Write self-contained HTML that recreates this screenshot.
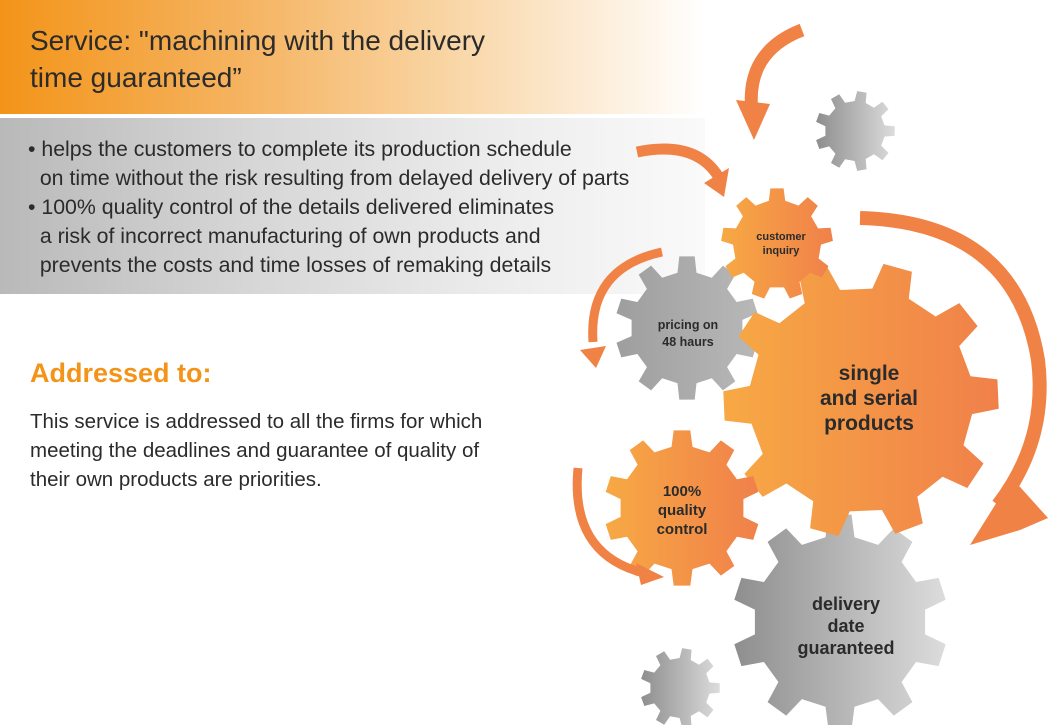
<!DOCTYPE html>
<html><head><meta charset="utf-8"><style>
html,body{margin:0;padding:0;background:#fff;}
body{width:1049px;height:725px;position:relative;overflow:hidden;font-family:"Liberation Sans",Arial,sans-serif;color:#333;}
.band1{position:absolute;left:0;top:0;width:705px;height:114px;background:linear-gradient(to right,#f39419 0%,#f5b462 35%,#f9d7a8 65%,#fff 100%);}
.band2{position:absolute;left:0;top:118px;width:705px;height:176px;background:linear-gradient(to right,#b9b9b9 0%,#d6d6d6 35%,#ececec 70%,#fafafa 100%);}
.narrow{white-space:nowrap;position:absolute;}
.title{left:30px;top:22px;font-size:28px;line-height:37px;color:#2b2b2b;}
.bul{left:28px;top:135px;font-size:21.3px;line-height:29px;color:#2b2b2b;}
.h{position:absolute;left:30px;top:358px;font-size:27px;font-weight:bold;color:#f39419;}
.p{position:absolute;left:30px;top:407px;font-size:20.5px;line-height:29px;color:#2b2b2b;white-space:nowrap;}
svg{position:absolute;left:0;top:0;}
</style></head><body>
<div class="band1"></div><div class="band2"></div>
<div class="narrow title">Service: "machining with the delivery<br>time guaranteed”</div>
<div class="narrow bul">• helps the customers to complete its production schedule<br>&nbsp;&nbsp;on time without the risk resulting from delayed delivery of parts<br>• 100% quality control of the details delivered eliminates<br>&nbsp;&nbsp;a risk of incorrect manufacturing of own products and<br>&nbsp;&nbsp;prevents the costs and time losses of remaking details</div>
<div class="h">Addressed to:</div>
<div class="p">This service is addressed to all the firms for which<br>meeting the deadlines and guarantee of quality of<br>their own products are priorities.</div>
<svg width="1049" height="725" viewBox="0 0 1049 725">
<defs>
<linearGradient id="og" x1="0" x2="1"><stop offset="0" stop-color="#f7a944"/><stop offset="1" stop-color="#f0804a"/></linearGradient>
<linearGradient id="gg" x1="0" x2="1"><stop offset="0" stop-color="#8e8e8e"/><stop offset="1" stop-color="#dcdcdc"/></linearGradient>
<linearGradient id="gm" x1="0" x2="1"><stop offset="0" stop-color="#9e9e9e"/><stop offset="1" stop-color="#b8b8b8"/></linearGradient>
</defs>
<g id="gears"></g>
<g fill="none" stroke="#f08246" stroke-linecap="butt">
<path d="M802,30 Q745,52 752,112" stroke-width="13"/>
<path d="M637,152 Q695,140 718,176" stroke-width="11"/>
<path d="M860,218 Q1015,222 1038,360 Q1048,440 998,505" stroke-width="14"/>
<path d="M662,252 Q588,268 593,342" stroke-width="9"/>
<path d="M578,468 Q570,552 640,572" stroke-width="9"/>
</g>
<g fill="#f08246">
<polygon points="736,100 770,104 754,140"/>
<polygon points="704,183 729,168 724,197"/>
<polygon points="1012,478 970,545 1020,530 1048,518"/>
<polygon points="580,350 606,346 596,368"/>
<polygon points="636,563 641,585 664,577"/>
</g>
<g font-family="Liberation Sans,Arial,sans-serif" font-weight="bold" fill="#2b2b2b" text-anchor="middle">
<text x="781" y="240" font-size="11">customer</text>
<text x="781" y="254" font-size="11">inquiry</text>
<text x="688" y="329" font-size="12.5">pricing on</text>
<text x="688" y="346" font-size="12.5">48 haurs</text>
<text x="869" y="380" font-size="21">single</text>
<text x="869" y="405" font-size="21">and serial</text>
<text x="869" y="430" font-size="21">products</text>
<text x="682" y="496" font-size="15">100%</text>
<text x="682" y="515" font-size="15">quality</text>
<text x="682" y="534" font-size="15">control</text>
<text x="846" y="610" font-size="18">delivery</text>
<text x="846" y="632" font-size="18">date</text>
<text x="846" y="654" font-size="18">guaranteed</text>
</g>
</svg>
<script>
function gear(cx,cy,ro,ri,n,fill,rot){
 var d="",step=Math.PI*2/n;rot=rot||0;
 for(var i=0;i<n;i++){
  var a=rot+i*step;
  var pts=[[a-step*0.27,ri],[a-step*0.17,ro],[a+step*0.17,ro],[a+step*0.27,ri]];
  pts.forEach(function(p,j){
   var x=cx+p[1]*Math.cos(p[0]),y=cy+p[1]*Math.sin(p[0]);
   d+=(i==0&&j==0?"M":"L")+x.toFixed(1)+","+y.toFixed(1);
  });
 }
 d+="Z";
 return '<path d="'+d+'" fill="'+fill+'"/>';
}
var g="";
g+=gear(855,131,40,30,9,"url(#gg)",0);
g+=gear(680,688,40,30,9,"url(#gg)",0);
g+=gear(687,328,72,56,10,"url(#gm)",-Math.PI/2);
g+=gear(840,622,108,86,10,"url(#gg)",-Math.PI/2);
g+=gear(861,400,138,112,10,"url(#og)",-1.3);
g+=gear(777,244,56,44,9,"url(#og)",-Math.PI/2);
g+=gear(682,508,78,62,10,"url(#og)",-Math.PI/2);
document.getElementById("gears").innerHTML=g;
</script>
</body></html>
